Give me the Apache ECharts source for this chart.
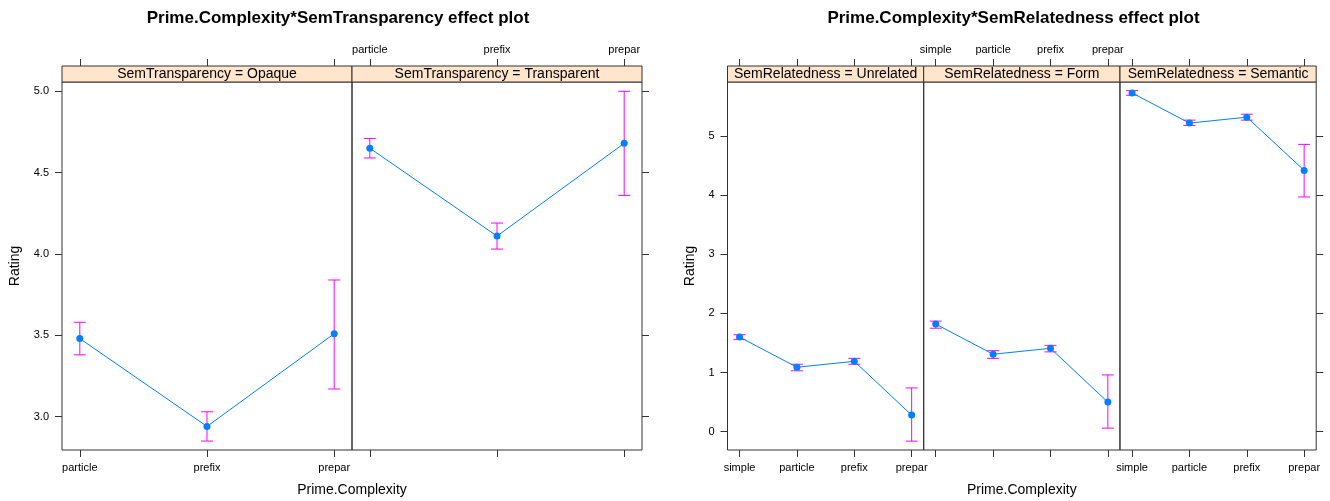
<!DOCTYPE html>
<html>
<head>
<meta charset="utf-8">
<script src="https://cdn.jsdelivr.net/npm/echarts@6/dist/echarts.min.js"></script>
<style>
  html, body { margin: 0; padding: 0; background: #fff; }
  #chart { width: 1330px; height: 501px; }
</style>
</head>
<body>
<div id="chart"></div>
<script>
// Prime complexity levels on the x axis
const transCategories = ['particle', 'prefix', 'prepar'];
const relCategories = ['simple', 'particle', 'prefix', 'prepar'];

// Conditioning levels (one panel each)
const transPanels = ['Opaque', 'Transparent'];
const relPanels = ['Unrelated', 'Form', 'Semantic'];

// Fitted ratings with lower / upper confidence limits: SemTransparency model
const opaqueFit = [3.48, 2.94, 3.51];
const opaqueLower = [3.38, 2.85, 3.17];
const opaqueUpper = [3.58, 3.03, 3.84];
const transparentFit = [4.65, 4.11, 4.68];
const transparentLower = [4.59, 4.03, 4.36];
const transparentUpper = [4.71, 4.19, 5.00];

// Fitted ratings with lower / upper confidence limits: SemRelatedness model
const unrelatedFit = [1.60, 1.09, 1.19, 0.28];
const unrelatedLower = [1.56, 1.03, 1.14, -0.16];
const unrelatedUpper = [1.64, 1.14, 1.24, 0.74];
const formFit = [1.82, 1.31, 1.41, 0.50];
const formLower = [1.75, 1.24, 1.35, 0.06];
const formUpper = [1.87, 1.37, 1.46, 0.96];
const semanticFit = [5.73, 5.22, 5.32, 4.42];
const semanticLower = [5.69, 5.18, 5.27, 3.97];
const semanticUpper = [5.77, 5.27, 5.37, 4.86];

// Rating tick values
const transTicks = [3.0, 3.5, 4.0, 4.5, 5.0];
const relTicks = [0, 1, 2, 3, 4, 5];

const FONT = '"Liberation Sans", Arial, Helvetica, sans-serif';
const BORDER = '#333333';
const LINE_COLOR = '#0080ff';
const CI_COLOR = '#ff00ff';
const STRIP_FILL = '#ffe5cc';

const PLOT_TOP = 82;
const PLOT_H = 368;
const STRIP_H = 16;

const plots = [
  {
    title: 'Prime.Complexity*SemTransparency effect plot',
    titleX: 338,
    stripVar: 'SemTransparency',
    categories: transCategories,
    panels: transPanels,
    fits: [opaqueFit, transparentFit],
    lowers: [opaqueLower, transparentLower],
    uppers: [opaqueUpper, transparentUpper],
    yTicks: transTicks,
    yDigits: 1,
    yMin: 2.795, yMax: 5.057,
    lefts: [62, 352], width: 290,
    bottomLabels: [true, false],
    yTitleX: 15
  },
  {
    title: 'Prime.Complexity*SemRelatedness effect plot',
    titleX: 1013.5,
    stripVar: 'SemRelatedness',
    categories: relCategories,
    panels: relPanels,
    fits: [unrelatedFit, formFit, semanticFit],
    lowers: [unrelatedLower, formLower, semanticLower],
    uppers: [unrelatedUpper, formUpper, semanticUpper],
    yTicks: relTicks,
    yDigits: 0,
    yMin: -0.31, yMax: 5.915,
    lefts: [727.5, 923.7, 1120], width: 196.2,
    bottomLabels: [true, false, true],
    yTitleX: 690
  }
];

const grid = [], xAxis = [], yAxis = [], series = [], graphic = [];

function errorBarItem(params, api) {
  const x = api.value(0);
  const lo = api.coord([x, api.value(1)]);
  const hi = api.coord([x, api.value(2)]);
  const cap = 6;
  const style = { stroke: CI_COLOR, lineWidth: 1 };
  return {
    type: 'group',
    children: [
      { type: 'line', shape: { x1: lo[0], y1: lo[1], x2: hi[0], y2: hi[1] }, style },
      { type: 'line', shape: { x1: lo[0] - cap, y1: lo[1], x2: lo[0] + cap, y2: lo[1] }, style },
      { type: 'line', shape: { x1: hi[0] - cap, y1: hi[1], x2: hi[0] + cap, y2: hi[1] }, style }
    ]
  };
}

plots.forEach(function (p) {
  const n = p.categories.length;
  const pad = 0.07 * (n - 1);
  const xPos = p.categories.map(function (_, i) { return i + 1; });
  const catLabel = function (v) { return p.categories[Math.round(v) - 1] || ''; };
  const nPanels = p.panels.length;

  p.panels.forEach(function (name, k) {
    const gi = grid.length;
    const left = p.lefts[k];
    grid.push({
      left: left, top: PLOT_TOP, width: p.width, height: PLOT_H,
      show: true, borderColor: BORDER, borderWidth: 1, backgroundColor: 'transparent'
    });

    const tickStyle = { color: BORDER, width: 1 };
    const labelStyle = { fontFamily: FONT, fontSize: 11, color: '#000' };

    // bottom axis
    xAxis.push({
      gridIndex: gi, type: 'value', position: 'bottom',
      min: 1 - pad, max: n + pad,
      axisLine: { show: false, onZero: false }, splitLine: { show: false },
      axisTick: { show: true, length: 7, customValues: xPos, lineStyle: tickStyle },
      axisLabel: Object.assign({ show: p.bottomLabels[k], customValues: xPos, formatter: catLabel, margin: 12 }, labelStyle)
    });
    // top axis, sitting above the strip
    xAxis.push({
      gridIndex: gi, type: 'value', position: 'top', offset: STRIP_H,
      min: 1 - pad, max: n + pad,
      axisLine: { show: false, onZero: false }, splitLine: { show: false },
      axisTick: { show: true, length: 7, customValues: xPos, lineStyle: tickStyle },
      axisLabel: Object.assign({ show: !p.bottomLabels[k], customValues: xPos, formatter: catLabel, margin: 11 }, labelStyle)
    });

    const isFirst = k === 0, isLast = k === nPanels - 1;
    yAxis.push({
      gridIndex: gi, type: 'value',
      position: isLast && !isFirst ? 'right' : 'left',
      show: isFirst || isLast,
      min: p.yMin, max: p.yMax,
      axisLine: { show: false, onZero: false }, splitLine: { show: false },
      axisTick: { show: true, length: 7, customValues: p.yTicks, lineStyle: tickStyle },
      axisLabel: Object.assign({
        show: isFirst, customValues: p.yTicks, margin: 13,
        formatter: function (v) { return Number(v).toFixed(p.yDigits); }
      }, labelStyle)
    });

    const xi = gi * 2;
    series.push({
      type: 'custom', xAxisIndex: xi, yAxisIndex: gi, z: 2,
      renderItem: errorBarItem,
      data: xPos.map(function (x, i) { return [x, p.lowers[k][i], p.uppers[k][i]]; }),
      silent: true
    });
    series.push({
      type: 'line', xAxisIndex: xi, yAxisIndex: gi, z: 3,
      data: xPos.map(function (x, i) { return [x, p.fits[k][i]]; }),
      symbol: 'circle', symbolSize: 7, showSymbol: true,
      itemStyle: { color: LINE_COLOR },
      lineStyle: { color: LINE_COLOR, width: 1 },
      silent: true
    });

    // strip with the conditioning level
    graphic.push({
      type: 'rect', silent: true,
      shape: { x: left, y: PLOT_TOP - STRIP_H, width: p.width, height: STRIP_H },
      style: { fill: STRIP_FILL, stroke: BORDER, lineWidth: 1 }
    });
    graphic.push({
      type: 'text', silent: true,
      x: left + p.width / 2, y: PLOT_TOP - STRIP_H / 2 + 0.5,
      style: {
        text: p.stripVar + ' = ' + name, font: '14px ' + FONT, fill: '#000',
        align: 'center', verticalAlign: 'middle', textAlign: 'center', textVerticalAlign: 'middle'
      }
    });
  });

  const plotLeft = p.lefts[0];
  const plotRight = p.lefts[nPanels - 1] + p.width;
  graphic.push({
    type: 'text', silent: true, x: p.titleX, y: 18,
    style: {
      text: p.title, font: 'bold 17px ' + FONT, fill: '#000',
      align: 'center', verticalAlign: 'middle', textAlign: 'center', textVerticalAlign: 'middle'
    }
  });
  graphic.push({
    type: 'text', silent: true, x: (plotLeft + plotRight) / 2, y: 490,
    style: {
      text: 'Prime.Complexity', font: '14px ' + FONT, fill: '#000',
      align: 'center', verticalAlign: 'middle', textAlign: 'center', textVerticalAlign: 'middle'
    }
  });
  graphic.push({
    type: 'text', silent: true, x: p.yTitleX, y: PLOT_TOP + PLOT_H / 2, rotation: Math.PI / 2,
    style: {
      text: 'Rating', font: '14px ' + FONT, fill: '#000',
      align: 'center', verticalAlign: 'middle', textAlign: 'center', textVerticalAlign: 'middle'
    }
  });
});

const chart = echarts.init(document.getElementById('chart'), null, { renderer: 'canvas' });
chart.setOption({
  animation: false,
  backgroundColor: '#ffffff',
  grid: grid,
  xAxis: xAxis,
  yAxis: yAxis,
  series: series,
  graphic: graphic
});
</script>
</body>
</html>
